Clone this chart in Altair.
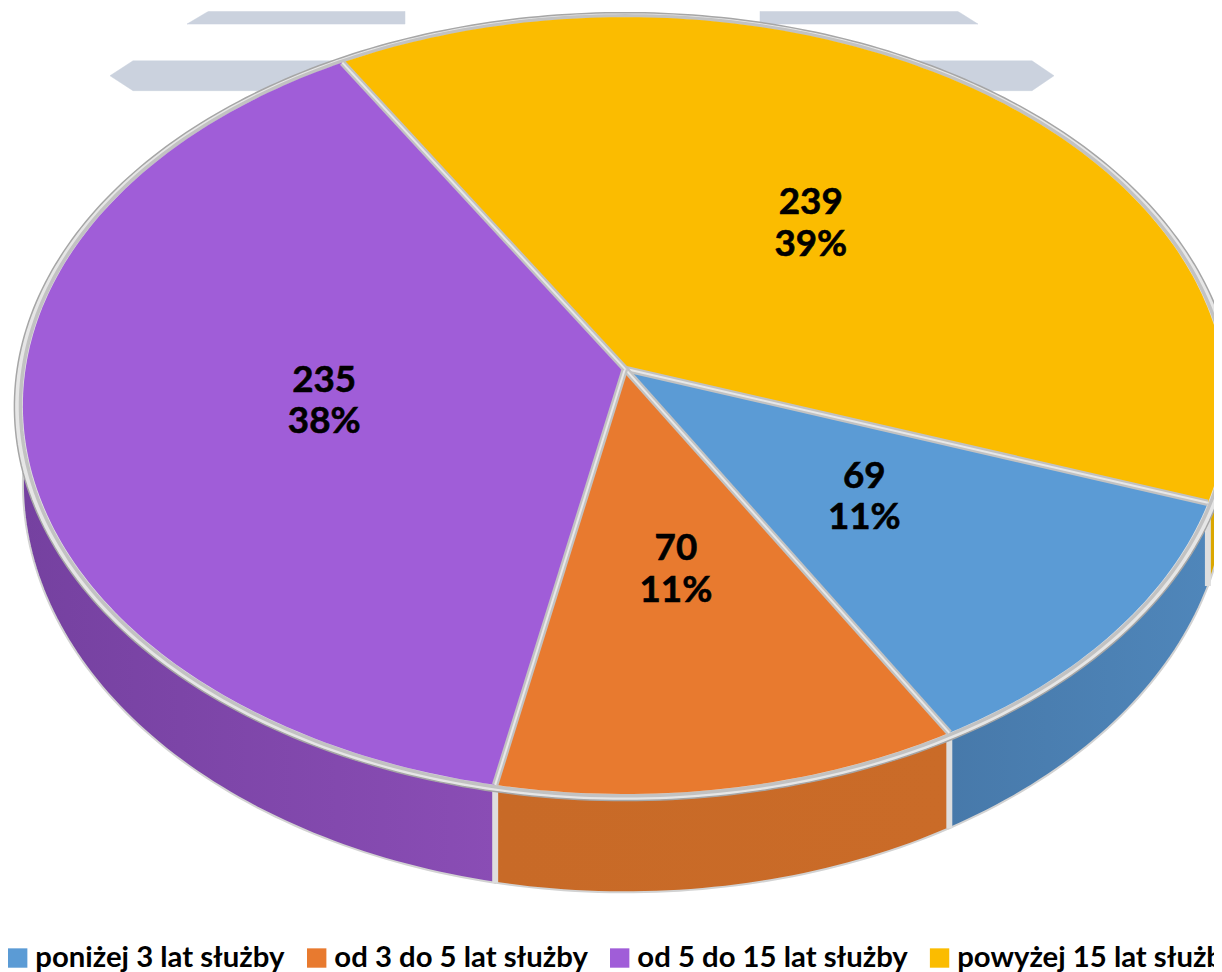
import math
import altair as alt
import pandas as pd

categories = ["poniżej 3 lat służby", "od 3 do 5 lat służby", "od 5 do 15 lat służby", "powyżej 15 lat służby"]
counts = [69, 70, 235, 239]
percents = ["11%", "11%", "38%", "39%"]
face_colors = ["#5B9BD5", "#E87A2F", "#A05DD8", "#FBBC00"]
wall_stops = [("#4779AA", "#4F86BA"), ("#C86A27", "#CA6B28"), ("#7541A0", "#8A4DB5"), ("#DBA700", "#DBA700")]
# decorative grey ribbons behind the pie
ribbon_x = [[222, 405, 405, 187], [760, 945, 978, 760], [110, 133, 400, 400, 133], [800, 1032, 1054, 1032, 800]]
ribbon_y = [[0, 0, 21, 21], [0, 0, 21, 21], [73, 58, 58, 88, 88], [58, 58, 73, 88, 88]]

START = -19.7
K, A, B, CX, CY = 0.0946, 387.5, 599.4, 625.0, 368.0


def project(deg, r=1.0, drop=False):
    u, v = r * math.cos(math.radians(deg)), r * math.sin(math.radians(deg))
    w = 1 + K * v
    x, y = CX + B * u / w, CY - A * v / w
    if drop:
        y += 76 - 23 * v
    return x, y


total = sum(counts)
edges = [START]
for c in counts:
    edges.append(edges[-1] - c / total * 360)


def arc(a, b, r=1.0, drop=False):
    n = max(2, int(abs(b - a)) + 1)
    return [project(a + (b - a) * j / (n - 1), r, drop) for j in range(n)]


def frame(points, name="p", **extra):
    rows = [{"x": x, "y": y, "i": i, "name": name, **extra} for i, (x, y) in enumerate(points)]
    return pd.DataFrame(rows)


X = alt.X("x:Q", scale=alt.Scale(domain=[8, 1214], nice=False, zero=False), axis=None)
Y = alt.Y("y:Q", scale=alt.Scale(domain=[8, 972], nice=False, zero=False, reverse=True), axis=None)
O = alt.Order("i:Q")


def poly(df, **mark):
    return alt.Chart(df).mark_line(clip=True, interpolate="linear", **mark).encode(x=X, y=Y, order=O, detail="name:N")


layers = []
for k, (rx, ry) in enumerate(zip(ribbon_x, ribbon_y)):
    layers.append(poly(frame(list(zip(rx, ry)) + [(rx[0], ry[0])], f"r{k}"), fill="#CBD2DE", stroke="#CBD2DE", strokeWidth=0.5))

# side wall
wall_ranges = [(edges[0], edges[1]), (edges[1], edges[2]), (edges[2], -200), (10, START)]
for k, (a, b) in enumerate(wall_ranges):
    pts = arc(a, b) + arc(b, a, drop=True)
    pts.append(pts[0])
    grad = alt.Gradient(
        gradient="linear", x1=0, x2=1, y1=0, y2=0,
        stops=[alt.GradientStop(offset=0, color=wall_stops[k][0]), alt.GradientStop(offset=1, color=wall_stops[k][1])],
    )
    layers.append(poly(frame(pts, f"w{k}"), fill=grad, stroke="#D2D2D2", strokeWidth=2))
for k, e in enumerate(edges[:3]):
    layers.append(poly(frame([project(e), project(e, drop=True)], f"ws{k}"), stroke="#DEDEDE", strokeWidth=6))

# rim of the top face
layers.append(poly(frame(arc(0, 360, 1.014), "rim"), fill="#E6E6E6", stroke="#A6A6A6", strokeWidth=1.5))
layers.append(poly(frame(arc(0, 360, 1.004), "rim2"), stroke="#C2C2C2", strokeWidth=3.5))

# top face
faces = []
for k, cat in enumerate(categories):
    pts = [(CX, CY)] + arc(edges[k], edges[k + 1]) + [(CX, CY)]
    faces.append(frame(pts, f"f{k}", cat=cat))
layers.append(
    alt.Chart(pd.concat(faces)).mark_line(clip=True, strokeWidth=0).encode(
        x=X, y=Y, order=O, detail="name:N",
        fill=alt.Fill(
            "cat:N",
            sort=categories,
            scale=alt.Scale(domain=categories, range=face_colors),
            legend=alt.Legend(
                orient="none", legendX=-5, legendY=938, direction="horizontal", columns=4, title=None,
                symbolType="square", symbolSize=380, symbolStrokeWidth=0, symbolOpacity=1,
                labelFont="Lato", labelFontWeight="bold", labelFontSize=29.5, labelColor="#000000",
                labelOffset=3, columnPadding=17, labelLimit=0, symbolOffset=0, padding=0,
            ),
        ),
    )
)

# separators between slices
for k, e in enumerate(edges[:4]):
    pts = [(CX, CY), project(e)]
    layers.append(poly(frame(pts, f"s{k}"), stroke="#C2C2C2", strokeWidth=6.5))
    layers.append(poly(frame(pts, f"t{k}"), stroke="#E8E8E8", strokeWidth=2))

# labels
lx, ly, txt = [], [], []
for k in range(4):
    x, y = project((edges[k] + edges[k + 1]) / 2, 0.505)
    lx.append(x)
    ly.append(y)
    txt.append(f"{counts[k]}\n{percents[k]}")
layers.append(
    alt.Chart(pd.DataFrame({"x": lx, "y": ly, "t": txt})).mark_text(
        font="Lato", fontWeight="bold", fontSize=37, color="#000000", lineBreak="\n", lineHeight=42,
        align="center", baseline="middle", dy=-21, stroke="#000000", strokeWidth=0.6,
    ).encode(x=X, y=Y, text="t:N")
)

chart = (
    alt.layer(*layers)
    .properties(width=1214, height=964, padding=0, autosize=alt.AutoSizeParams(type="none"))
    .configure_view(stroke=None)
)
chart.save("out.html", embed_options={"renderer": "svg", "actions": False})
